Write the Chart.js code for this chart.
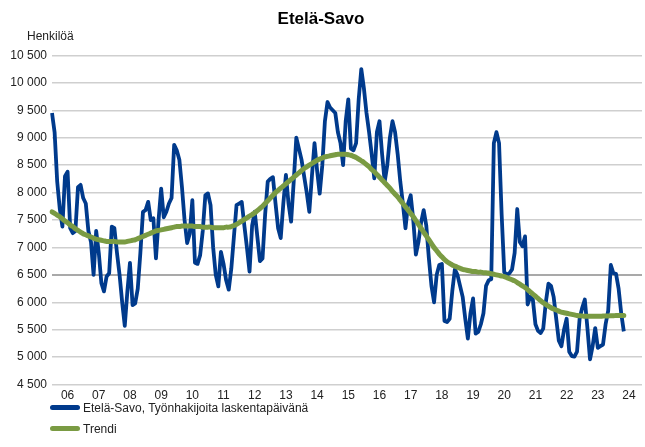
<!DOCTYPE html>
<html lang="fi">
<head>
<meta charset="utf-8">
<title>Etelä-Savo</title>
<script src="https://cdn.jsdelivr.net/npm/chart.js@4/dist/chart.umd.min.js"></script>
<style>
  body { margin: 0; background: #fff; font-family: "Liberation Sans", Arial, sans-serif; }
  #wrap { position: relative; width: 645px; height: 447px; }
  #legend { position: absolute; left: 50px; top: 397px; font-size: 12px; color: #222; }
  .item { display: flex; align-items: center; height: 21px; }
  .swatch { width: 30px; height: 5px; border-radius: 3px; margin-right: 3px; }
</style>
</head>
<body>
<div id="wrap">
  <canvas id="chart" width="645" height="447"></canvas>
  <div id="legend"></div>
</div>
<script>
const yearLabels = ['06', '07', '08', '09', '10', '11', '12', '13', '14', '15', '16', '17', '18', '19', '20', '21', '22', '23', '24'];
const seriesName = 'Etelä-Savo, Työnhakijoita laskentapäivänä';
const trendName = 'Trendi';
const yUnit = 'Henkilöä';

// kuukausittaiset työnhakijat, tammikuu 2006 -> toukokuu 2024
const jobSeekers = [
    9450, 9100, 8200, 7700, 7380, 8300, 8380, 7350, 7260, 7300, 8100, 8140,
    7900, 7800, 7300, 7100, 6500, 7300, 6900, 6350, 6200, 6470, 6530, 7380,
    7350, 6900, 6500, 6000, 5570, 6200, 6720, 5950, 5980, 6250, 6900, 7650,
    7680, 7830, 7500, 7530, 6800, 7500, 8070, 7550, 7650, 7800, 7900, 8870,
    8770, 8600, 8100, 7500, 7080, 7250, 7860, 6720, 6700, 6860, 7300, 7950,
    7985, 7770, 7000, 6500, 6290, 6920, 6700, 6400, 6230, 6620, 7200, 7770,
    7800, 7830, 7400, 7000, 6560, 7400, 7650, 7200, 6750, 6800, 7600, 8200,
    8250, 8280, 7800, 7350, 7170, 7800, 8320, 7800, 7470, 8200, 9000, 8800,
    8600, 8300, 8000, 7650, 8300, 8900, 8400, 7980, 8500, 9300, 9650, 9550,
    9500, 9450, 9100, 8900, 8500, 9300, 9700, 8800, 8770, 8900, 9700, 10250,
    9900, 9450, 9100, 8700, 8260, 9100, 9300, 8700, 8200, 8500, 9000, 9300,
    9100, 8700, 8200, 7800, 7350, 7800, 7950, 7500, 6870, 7100, 7450, 7680,
    7400, 6800, 6300, 6000, 6500, 6680, 6700, 5660, 5640, 5700, 6200, 6600,
    6500, 6300, 6100, 5700, 5340, 5800, 6070, 5430, 5460, 5600, 5800, 6300,
    6400, 6420, 8900, 9100, 8900, 7600, 6550, 6500, 6530, 6600, 6900, 7700,
    7100, 7020, 7200, 5960, 6100, 6050, 5600, 5480, 5440, 5520, 6000, 6340,
    6300, 6100, 5700, 5300, 5200, 5500, 5700, 5100, 5020, 5010, 5100, 5700,
    5900, 6050, 5530, 4960, 5200, 5530, 5170, 5200, 5230, 5600, 5850, 6680,
    6530, 6520, 6250, 5800, 5470
];

const trend = [
    7650, 7620, 7590, 7560, 7520, 7480, 7450, 7410, 7380, 7340, 7310, 7280,
    7250, 7230, 7210, 7190, 7170, 7150, 7140, 7130, 7120, 7110, 7110, 7110,
    7110, 7100, 7100, 7100, 7100, 7110, 7120, 7130, 7140, 7160, 7180, 7200,
    7220, 7240, 7260, 7280, 7300, 7310, 7320, 7330, 7340, 7350, 7360, 7370,
    7380, 7380, 7390, 7390, 7390, 7390, 7390, 7380, 7380, 7380, 7370, 7370,
    7370, 7370, 7360, 7360, 7360, 7360, 7360, 7370, 7370, 7380, 7400, 7420,
    7450, 7480, 7510, 7540, 7570, 7600, 7630, 7670, 7710, 7750, 7800, 7850,
    7900, 7950, 8000, 8040, 8080, 8120, 8160, 8200, 8240, 8280, 8320, 8360,
    8400, 8440, 8470, 8500, 8530, 8560, 8590, 8610, 8630, 8650, 8660, 8670,
    8680, 8690, 8700, 8700, 8700, 8700, 8690, 8680, 8660, 8640, 8610, 8580,
    8550, 8510, 8470, 8420, 8380, 8330, 8280, 8230, 8180, 8130, 8080, 8020,
    7970, 7920, 7860, 7800, 7740, 7680, 7620, 7560, 7490, 7420, 7350, 7280,
    7210, 7140, 7070, 7000, 6940, 6880, 6830, 6780, 6740, 6710, 6680, 6660,
    6640, 6620, 6600, 6590, 6580, 6570, 6560, 6560, 6550, 6550, 6540, 6540,
    6530, 6520, 6510, 6500, 6490, 6480, 6470, 6450, 6430, 6410, 6390, 6360,
    6330, 6300, 6270, 6230, 6190, 6150, 6110, 6070, 6030, 5990, 5960, 5930,
    5900, 5880, 5860, 5840, 5820, 5810, 5800, 5790, 5780, 5770, 5760, 5755,
    5750, 5745, 5745, 5745, 5745, 5745, 5745, 5745, 5750, 5750, 5750, 5755,
    5755, 5760, 5760, 5760, 5760
];

const blue = '#003a8c';
const green = '#7a9b43';

// kuukausiluokat vuosilistasta
const months = [];
yearLabels.forEach(yy => {
    for (let m = 1; m <= 12; m++) months.push(yy + '/' + m);
});

const fmt = v => String(v).replace(/\B(?=(\d{3})+(?!\d))/g, ' ');

const unitLabel = {
    id: 'unitLabel',
    afterDraw(chart) {
        const ctx = chart.ctx;
        ctx.save();
        ctx.font = '12px "Liberation Sans", Arial, sans-serif';
        ctx.fillStyle = '#222';
        ctx.textBaseline = 'middle';
        ctx.fillText(yUnit, 27, 37);
        ctx.restore();
    }
};

new Chart(document.getElementById('chart'), {
    type: 'line',
    data: {
        labels: months,
        datasets: [{
            label: seriesName,
            data: jobSeekers,
            borderColor: blue,
            borderWidth: 3.8,
            pointRadius: 0,
            tension: 0,
            borderJoinStyle: 'round',
            order: 1
        }, {
            label: trendName,
            data: trend,
            borderColor: green,
            borderWidth: 5,
            pointRadius: 0,
            tension: 0.3,
            borderCapStyle: 'round',
            order: 0
        }]
    },
    options: {
        responsive: false,
        animation: false,
        layout: { padding: { left: 0, right: 3, bottom: 40 } },
        plugins: {
            legend: { display: false },
            tooltip: { enabled: false },
            title: {
                display: true,
                text: 'Etelä-Savo',
                color: '#000',
                font: { family: '"Liberation Sans", Arial, sans-serif', size: 17, weight: 'bold' },
                padding: { top: 9, bottom: 26 }
            }
        },
        scales: {
            x: {
                type: 'category',
                offset: false,
                grid: { display: false, drawTicks: false },
                border: { display: false },
                afterBuildTicks: scale => {
                    scale.ticks = scale.ticks.filter(t => t.value % 12 === 6);
                },
                ticks: {
                    autoSkip: false,
                    maxRotation: 0,
                    minRotation: 0,
                    padding: 4,
                    color: '#222',
                    font: { family: '"Liberation Sans", Arial, sans-serif', size: 12 },
                    callback: value => yearLabels[Math.floor(value / 12)]
                }
            },
            y: {
                min: 4500,
                max: 10500,
                afterFit: scale => { scale.width = 52; },
                border: { display: false },
                grid: {
                    drawTicks: false,
                    color: c => c.tick && c.tick.value === 6500 ? '#a9a9a9' : '#cfcfcf',
                    lineWidth: c => c.tick && c.tick.value === 6500 ? 2 : 1.4
                },
                ticks: {
                    stepSize: 500,
                    padding: 5,
                    color: '#222',
                    font: { family: '"Liberation Sans", Arial, sans-serif', size: 12 },
                    callback: v => fmt(v)
                }
            }
        }
    },
    plugins: [unitLabel]
});

// selite kahdelle riville kuten alkuperäisessä
const legend = document.getElementById('legend');
[[seriesName, blue], [trendName, green]].forEach(([name, color]) => {
    const row = document.createElement('div');
    row.className = 'item';
    const sw = document.createElement('span');
    sw.className = 'swatch';
    sw.style.background = color;
    const txt = document.createElement('span');
    txt.textContent = name;
    row.appendChild(sw);
    row.appendChild(txt);
    legend.appendChild(row);
});
</script>
</body>
</html>
